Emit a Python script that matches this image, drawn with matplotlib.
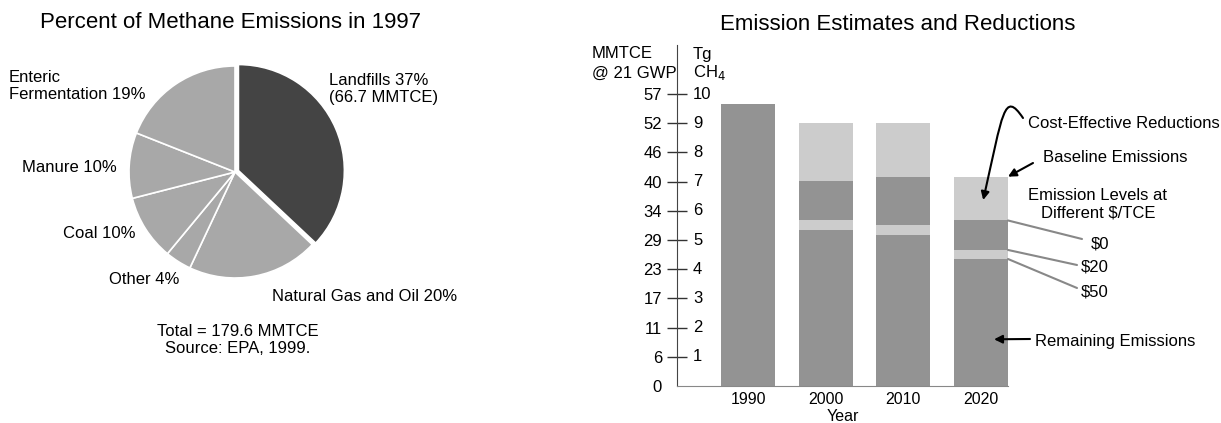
import numpy as np
import matplotlib
matplotlib.use("Agg")
import matplotlib.pyplot as plt
from matplotlib.patches import ConnectionPatch, FancyArrowPatch
from matplotlib.path import Path

plt.rcParams['font.family'] = ['Liberation Sans', 'DejaVu Sans']

# --- pie data: methane sources, 1997 (percent) ---
sources = ["Landfills", "Natural Gas and Oil", "Other", "Coal", "Manure",
           "Enteric Fermentation"]
shares = [37, 20, 4, 10, 10, 19]
pie_labels = ["Landfills 37%\n(66.7 MMTCE)", "Natural Gas and Oil 20%",
              "Other 4%", "Coal 10%", "Manure 10%",
              "Enteric\nFermentation 19%"]

# --- bar data: emission estimates, Tg CH4 ---
years = ["1990", "2000", "2010", "2020"]
baseline = [9.66, 9.0, 9.0, 7.17]
# 1990 has no reduction scenarios, so the levels equal the baseline there
level_0 = [9.66, 7.02, 7.16, 5.67]
level_20 = [9.66, 5.68, 5.51, 4.66]
level_50 = [9.66, 5.34, 5.17, 4.35]
tg_ticks = [0, 1, 2, 3, 4, 5, 6, 7, 8, 9, 10]
mmtce_ticks = ["0", "6", "11", "17", "23", "29", "34", "40", "46", "52", "57"]

W, H = 1221, 423
DARK = "#939393"
LIGHT = "#cccccc"


def fx(x):
    return x / W


def fy(y):
    return 1 - y / H


fig = plt.figure(figsize=(W / 100, H / 100), dpi=100)

# ---------------- pie ----------------
cx, cy, r = 235, 172, 106
half = r * 1.1
ax1 = fig.add_axes([fx(cx - half), fy(cy + half), 2 * half / W, 2 * half / H])
pie_colors = ["#444444"] + ["#a8a8a8"] * 5
explode = [0.035, 0, 0, 0, 0, 0]
ax1.pie(shares, colors=pie_colors, startangle=90, counterclock=False,
        explode=explode, radius=1,
        wedgeprops=dict(edgecolor="white", linewidth=1.2))
ax1.set_xlim(-1.1, 1.1)
ax1.set_ylim(-1.1, 1.1)
ax1.set_aspect("equal")

label_pos = [(329, 89), (272, 296), (109, 279), (63, 233), (22, 167), (9, 86)]
for text, (lx, ly) in zip(pie_labels, label_pos):
    fig.text(fx(lx), fy(ly), text, ha="left", va="center", fontsize=12)

fig.text(fx(238), fy(340), "Total = 179.6 MMTCE\nSource: EPA, 1999.",
         ha="center", va="center", multialignment="center", fontsize=12)
fig.text(fx(230), fy(22), "Percent of Methane Emissions in 1997",
         ha="center", va="center", fontsize=16)

# ---------------- stacked bars ----------------
ax2 = fig.add_axes([fx(677), fy(386), 331 / W, 341 / H])
x = np.arange(len(years))
width = 0.70
b = np.array(baseline)
l0 = np.array(level_0)
l20 = np.array(level_20)
l50 = np.array(level_50)
ax2.bar(x, l50, width, color=DARK)
ax2.bar(x, l20 - l50, width, bottom=l50, color=LIGHT)
ax2.bar(x, l0 - l20, width, bottom=l20, color=DARK)
ax2.bar(x, b - l0, width, bottom=l0, color=LIGHT)
ax2.bar(x[:1], b[:1], width, color=DARK)

ax2.set_xlim(-0.92, 3.35)
ax2.set_ylim(0, 11.68)
for side in ("top", "right"):
    ax2.spines[side].set_visible(False)
ax2.spines["left"].set_color("#444444")
ax2.spines["bottom"].set_color("#888888")

ax2.set_yticks(tg_ticks)
ax2.set_yticklabels(mmtce_ticks)
ax2.tick_params(axis="y", direction="inout", length=14.4, width=1,
                color="#333333", pad=3.6, labelsize=12)
ax2.yaxis.get_major_ticks()[0].tick1line.set_visible(False)
for v in tg_ticks[1:]:
    ax2.text(16 / 331, v, str(v), transform=ax2.get_yaxis_transform(),
             ha="left", va="center", fontsize=12)

ax2.set_xticks(x)
ax2.set_xticklabels(years)
ax2.tick_params(axis="x", length=0, pad=4, labelsize=11.5)
ax2.set_xlabel("Year", fontsize=11.5, labelpad=1.5)

fig.text(fx(592), fy(54), "MMTCE", ha="left", va="center", fontsize=12)
fig.text(fx(592), fy(73), "@ 21 GWP", ha="left", va="center", fontsize=12)
fig.text(fx(693), fy(54), "Tg", ha="left", va="center", fontsize=12)
fig.text(fx(693), fy(73), "CH$_4$", ha="left", va="center", fontsize=12)
fig.text(fx(898), fy(25), "Emission Estimates and Reductions",
         ha="center", va="center", fontsize=16)

# annotations on the 2020 bar
right_edge = x[3] + width / 2
arrow = dict(arrowstyle="-|>", color="black", lw=1.5, mutation_scale=12,
             shrinkA=0, shrinkB=0)

fig.text(fx(1028), fy(123), "Cost-Effective Reductions", ha="left",
         va="center", fontsize=12)
# hooked arrow into the reductions block: cubic curve in figure fraction
tip = fig.transFigure.inverted().transform(
    ax2.transData.transform((x[3] + 0.03, (b[3] + l0[3]) / 2 - 0.05)))
hook = Path([(fx(1023), fy(118)), (fx(1004), fy(90)), (fx(1003), fy(112)),
             tuple(tip)],
            [Path.MOVETO, Path.CURVE4, Path.CURVE4, Path.CURVE4])
fig.add_artist(FancyArrowPatch(path=hook, arrowstyle="-|>", color="black",
                               lw=1.5, mutation_scale=12,
                               transform=fig.transFigure))

fig.text(fx(1043), fy(157), "Baseline Emissions", ha="left", va="center",
         fontsize=12)
ax2.annotate("", xy=(right_edge, b[3]), xytext=(fx(1033), fy(163)),
             textcoords="figure fraction", arrowprops=arrow)

fig.text(fx(1098), fy(204), "Emission Levels at\nDifferent $/TCE",
         ha="center", va="center", multialignment="center", fontsize=12)

price_labels = ["$0", "$20", "$50"]
price_levels = [l0[3], l20[3], l50[3]]
label_y = [244, 267, 292]
line_end = [(1082, 239), (1077, 265), (1077, 288)]
for lab, lev, ty, (ex, ey) in zip(price_labels, price_levels, label_y, line_end):
    fig.text(fx(1109), fy(ty), lab, ha="right", va="center", fontsize=12)
    con = ConnectionPatch(xyA=(right_edge, lev), coordsA=ax2.transData,
                          xyB=(fx(ex), fy(ey)), coordsB=fig.transFigure,
                          color="#888888", lw=1.5)
    fig.add_artist(con)

fig.text(fx(1035), fy(341), "Remaining Emissions", ha="left", va="center",
         fontsize=12)
ax2.annotate("", xy=(x[3] + 0.17, 1.6), xytext=(fx(1030), fy(339)),
             textcoords="figure fraction", arrowprops=arrow)

fig.savefig("out.png", dpi=100)
